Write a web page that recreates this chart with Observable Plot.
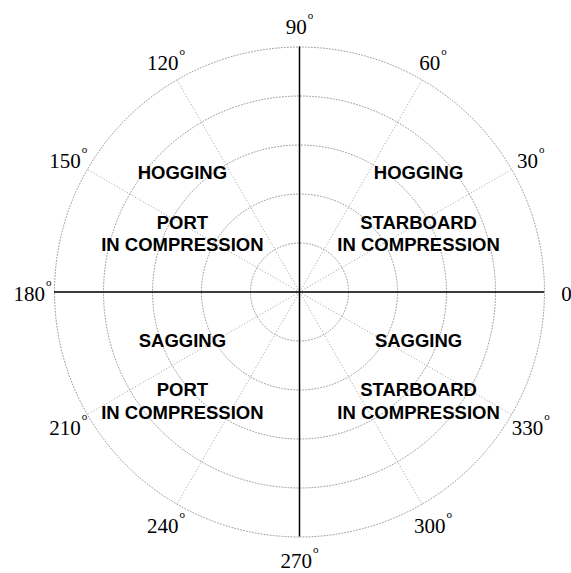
<!DOCTYPE html>
<html>
<head>
<meta charset="utf-8">
<script src="https://cdn.jsdelivr.net/npm/d3@7"></script>
<script src="https://cdn.jsdelivr.net/npm/@observablehq/plot@0.6"></script>
<style>
  html, body { margin: 0; padding: 0; background: #fff; }
</style>
</head>
<body>
<div id="chart"></div>
<script>
// ---- data ----
const ringRadii = [1, 2, 3, 4, 5];
const rMax = 5;
const spokeAngles = [0, 30, 60, 90, 120, 150, 180, 210, 240, 270, 300, 330];
const tickAngles = [0, 30, 60, 90, 120, 150, 180, 210, 240, 270, 300, 330];
const tickLabels = ["0", "30°", "60°", "90°", "120°", "150°", "180°", "210°", "240°", "270°", "300°", "330°"];
const labelRadius = 5.45;

const headTexts = ["HOGGING", "HOGGING", "SAGGING", "SAGGING"];
const headX = [-2.39, 2.43, -2.39, 2.43];
const headY = [2.42, 2.42, -1.0, -1.0];
const subTexts = ["PORT\nIN COMPRESSION", "STARBOARD\nIN COMPRESSION", "PORT\nIN COMPRESSION", "STARBOARD\nIN COMPRESSION"];
const subX = [-2.39, 2.43, -2.39, 2.43];
const subY = [1.21, 1.21, -2.21, -2.21];

// ---- derived geometry ----
const rad = d => d * Math.PI / 180;
const circlePts = ringRadii.flatMap(r =>
  d3.range(0, 361, 2).map(a => ({ring: r, x: r * Math.cos(rad(a)), y: r * Math.sin(rad(a))})));
const spokes = spokeAngles.map(a => ({x1: 0, y1: 0, x2: rMax * Math.cos(rad(a)), y2: rMax * Math.sin(rad(a))}));
const ticks = tickAngles.map((a, i) => ({x: labelRadius * Math.cos(rad(a)), y: labelRadius * Math.sin(rad(a)), label: tickLabels[i]}));
const heads = headTexts.map((t, i) => ({x: headX[i], y: headY[i], t}));
const subs = subTexts.map((t, i) => ({x: subX[i], y: subY[i], t}));

const W = 571, H = 573, cx = 299, cy = 291.5, unit = 49;

const plot = Plot.plot({
  width: W,
  height: H,
  margin: 0,
  x: {domain: [-cx / unit, (W - cx) / unit], axis: null},
  y: {domain: [-(H - cy) / unit, cy / unit], axis: null},
  marks: [
    Plot.line(circlePts, {x: "x", y: "y", z: "ring", stroke: "#a0a0a0", strokeWidth: 1, strokeDasharray: "1 2"}),
    Plot.link(spokes, {x1: "x1", y1: "y1", x2: "x2", y2: "y2", stroke: "#a0a0a0", strokeWidth: 1, strokeDasharray: "1 2"}),
    Plot.ruleY([0], {x1: -rMax, x2: rMax, stroke: "#000", strokeWidth: 1.5}),
    Plot.ruleX([0], {y1: -rMax, y2: rMax, stroke: "#000", strokeWidth: 1.5}),
    Plot.text(ticks, {x: "x", y: "y", text: "label", fontFamily: "Liberation Serif, Times New Roman, serif", fontSize: 21, fill: "#000", dy: 2.5, className: "angle-labels"}),
    Plot.text(heads, {x: "x", y: "y", text: "t", fontFamily: "Liberation Sans, Arial, sans-serif", fontSize: 18.5, fontWeight: "bold", fill: "#000"}),
    Plot.text(subs, {x: "x", y: "y", text: "t", fontFamily: "Liberation Sans, Arial, sans-serif", fontSize: 18.5, fontWeight: "bold", fill: "#000", lineHeight: 1.23})
  ]
});

// render degree sign as superscript "o"
d3.select(plot).selectAll(".angle-labels text").each(function () {
  const t = this.textContent;
  if (t.endsWith("°")) {
    this.textContent = t.slice(0, -1);
    d3.select(this).append("tspan").attr("font-size", 11).attr("dx", 1).attr("dy", -15).text("o");
  }
});

document.getElementById("chart").appendChild(plot);
</script>
</body>
</html>
